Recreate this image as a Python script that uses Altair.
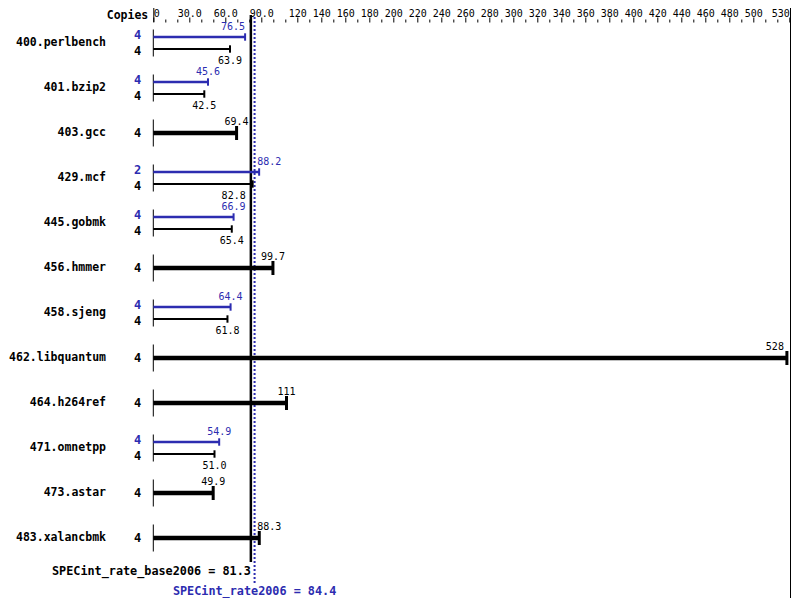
import altair as alt
import pandas as pd

benchmarks = ["400.perlbench", "401.bzip2", "403.gcc", "429.mcf", "445.gobmk", "456.hmmer",
              "458.sjeng", "462.libquantum", "464.h264ref", "471.omnetpp", "473.astar", "483.xalancbmk"]
base_copies = [4, 4, 4, 4, 4, 4, 4, 4, 4, 4, 4, 4]
base_ratios = [63.9, 42.5, 69.4, 82.8, 65.4, 99.7, 61.8, 528, 111, 51.0, 49.9, 88.3]
peak_copies = [4, 4, None, 2, 4, None, 4, None, None, 4, None, None]
peak_ratios = [76.5, 45.6, None, 88.2, 66.9, None, 64.4, None, None, 54.9, None, None]
base_score = 81.3
peak_score = 84.4
tick_values = list(range(0, 531, 10))

BLUE = "#2c2cb0"
FONT = "DejaVu Sans Mono"

recs = []
for i, b in enumerate(benchmarks):
    has_peak = peak_ratios[i] is not None
    if has_peak:
        recs.append(dict(bench=b, row=i, run="peak", copies=int(peak_copies[i]), v=float(peak_ratios[i]), single=0))
    recs.append(dict(bench=b, row=i, run="base", copies=int(base_copies[i]), v=float(base_ratios[i]), single=0 if has_peak else 1))
df = pd.DataFrame(recs)
dfb = pd.DataFrame({"bench": benchmarks, "row": list(range(len(benchmarks)))})
dfs = pd.DataFrame({"kind": ["base", "peak"], "score": [base_score, peak_score]})

W, H = 636, 540
ya = -21 / 45
yb_ = ya + H / 45
xs = alt.Scale(domain=[0, 530], zero=False, nice=False)
ys = alt.Scale(domain=[ya, yb_], zero=False, nice=False, reverse=True)

tall = "(datum.value <= 90 && datum.value % 30 == 0) || (datum.value >= 120 && datum.value % 20 == 0 && datum.value != 520) || datum.value == 530"
label_expr = ("datum.value == 0 ? '0' : (" + tall + ") ? (datum.value <= 90 ? format(datum.value, '.1f') : format(datum.value, 'd')) : ''")

xaxis = alt.Axis(orient="top", values=tick_values, domain=False, grid=False, title=None,
                 tickColor="black", tickWidth=1,
                 tickSize={"condition": {"test": tall, "value": 5}, "value": 3},
                 labelExpr=label_expr, labelFlush=True, labelOverlap=False, labelPadding=0.5,
                 labelBaseline="alphabetic",
                 labelFont=FONT, labelFontSize=10, labelColor="black")


def X(f):
    return alt.X(f, scale=xs, axis=xaxis)


def Y(f):
    return alt.Y(f, scale=ys, axis=None)


base = alt.Chart(df).transform_calculate(
    zero="0",
    yb="datum.row + (datum.run == 'peak' ? -6 : (datum.single ? 0 : 6)) / 45",
    ch="datum.single ? 7 : 3.7",
    c1="datum.yb - datum.ch / 45",
    c2="datum.yb + datum.ch / 45",
    yc="datum.row + (datum.run == 'peak' ? -8 : (datum.single ? 0 : 7.5)) / 45",
    yt="datum.row + (datum.run == 'peak' ? -16 : (datum.single ? -11.5 : 17.5)) / 45",
    lab="format(datum.v, '.3r')",
    cat="datum.v > 500 ? 'r' : ((datum.v > 70 && datum.v < 86) ? 'r' : ((datum.v >= 86 && datum.v < 95) ? 'l' : 'c'))",
    xt="datum.v > 500 ? datum.v - 2.5 : ((datum.v > 70 && datum.v < 86) ? min(datum.v, 77) : ((datum.v >= 86 && datum.v < 95) ? 86.6 : datum.v))",
)

# groups: (filter, color, bar width, cap width)
groups = [
    ("datum.run == 'peak'", BLUE, 2.4, 2),
    ("datum.run == 'base' && !datum.single", "black", 2, 2),
    ("datum.run == 'base' && datum.single", "black", 4.5, 3),
]
layers = []

seps_src = alt.Chart(dfb).transform_calculate(
    zero="0", s1="datum.row - 13.5 / 45", s2="datum.row + 13.5 / 45")
layers.append(seps_src.mark_rule(color="black", strokeWidth=1).encode(
    x=X("zero:Q"), y=Y("s1:Q"), y2="s2:Q"))

schart = alt.Chart(dfs)
layers.append(schart.transform_filter("datum.kind == 'base'").mark_rule(color="black", strokeWidth=2.5).encode(
    x=X("score:Q"), y=alt.value(-7), y2=alt.value(H)))
layers.append(schart.transform_filter("datum.kind == 'peak'").mark_rule(
    color=BLUE, strokeWidth=2, strokeDash=[2, 2]).encode(
    x=X("score:Q"), y=alt.value(-5), y2=alt.value(561)))

for flt, c, bw, cw in groups:
    g = base.transform_filter(flt)
    layers.append(g.mark_rule(color=c, strokeWidth=bw).encode(x=X("zero:Q"), x2="v:Q", y=Y("yb:Q")))
    layers.append(g.mark_rule(color=c, strokeWidth=cw).encode(x=X("v:Q"), y=Y("c1:Q"), y2="c2:Q"))

for run, c in [("peak", BLUE), ("base", "black")]:
    g = base.transform_filter(f"datum.run == '{run}'")
    layers.append(g.mark_text(align="right", baseline="middle", font=FONT, fontSize=12, fontWeight="bold",
                              color=c).encode(x=alt.value(-12), y=Y("yc:Q"), text="copies:Q"))
    for cat, al in [("c", "center"), ("l", "left"), ("r", "right")]:
        layers.append(g.transform_filter(f"datum.cat == '{cat}'").mark_text(
            align=al, baseline="middle", font=FONT, fontSize=10, color=c).encode(
            x=X("xt:Q"), y=Y("yt:Q"), text="lab:N"))

layers.append(alt.Chart(dfb).mark_text(align="right", baseline="middle", font=FONT, fontSize=11.5,
                                       fontWeight="bold", color="black").encode(
    x=alt.value(-47.3), y=Y("row:Q"), text="bench:N"))

layers.append(schart.transform_filter("datum.kind == 'base'").transform_calculate(
    t="'SPECint_rate_base2006 = ' + format(datum.score, '.1f')").mark_text(
    align="right", baseline="middle", font=FONT, fontSize=11.8, fontWeight="bold", color="black").encode(
    x=X("score:Q"), y=alt.value(549), text="t:N"))
layers.append(schart.transform_filter("datum.kind == 'peak'").transform_calculate(
    t="'SPECint_rate2006 = ' + format(datum.score, '.1f')").mark_text(
    align="center", baseline="middle", font=FONT, fontSize=11.8, fontWeight="bold", color=BLUE).encode(
    x=X("score:Q"), y=alt.value(569), text="t:N"))

hdr = alt.Chart(dfs).transform_filter("datum.kind == 'base'")
layers.append(hdr.mark_text(align="right", baseline="middle", font=FONT, fontSize=11.5, fontWeight="bold",
                            color="black", text="Copies").encode(x=alt.value(-5), y=alt.value(-6.5)))
layers.append(hdr.mark_rule(color="black", strokeWidth=1).encode(
    x=alt.value(0.5), y=alt.value(-14), y2=alt.value(0)))
layers.append(hdr.mark_rule(color="black", strokeWidth=1).encode(
    x=alt.value(W + 1.2), y=alt.value(-14), y2=alt.value(576)))

chart = alt.layer(*layers).properties(
    width=W, height=H,
    background="white",
    autosize=alt.AutoSizeParams(type="none"),
    padding={"left": 145.3, "top": 14, "right": 1.7, "bottom": 36},
).configure_view(stroke=None)

chart.save("out.html", embed_options={"renderer": "svg", "actions": False})
